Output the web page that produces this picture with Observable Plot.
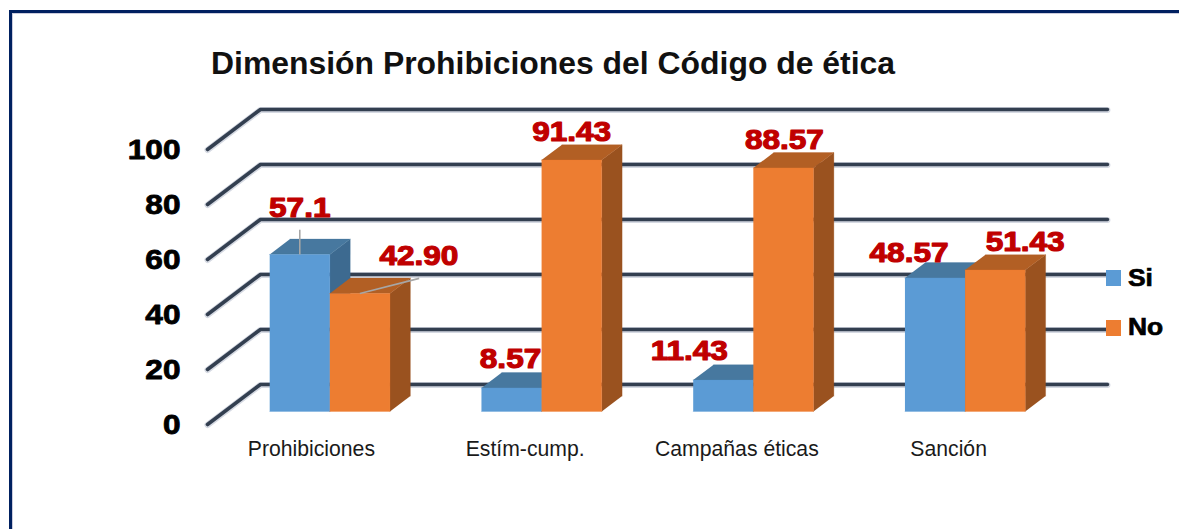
<!DOCTYPE html>
<html>
<head>
<meta charset="utf-8">
<script src="https://cdn.jsdelivr.net/npm/d3@7"></script>
<script src="https://cdn.jsdelivr.net/npm/@observablehq/plot@0.6"></script>
<style>
html,body{margin:0;padding:0;background:#fff;}
#wrap{position:relative;width:1179px;height:529px;overflow:hidden;font-family:"Liberation Sans",Arial,sans-serif;}
#frame{position:absolute;left:9px;top:10px;right:-10px;bottom:-10px;border-left:3px solid #002060;border-top:3px solid #002060;box-shadow:inset 1px 1px 0 #ccd;}
#title{position:absolute;left:211px;top:44px;font-weight:bold;font-size:31.9px;line-height:38px;color:#111;white-space:nowrap;}
#chart{position:absolute;left:0;top:0;}
.leg{position:absolute;left:1106px;width:15px;height:16px;}
.legt{position:absolute;left:1128px;font-weight:bold;font-size:24px;line-height:24px;color:#000;transform-origin:left center;transform:scaleX(1.1);-webkit-text-stroke:.7px #000;}
</style>
</head>
<body>
<div id="wrap">
  <div id="frame"></div>
  <div id="title">Dimensión Prohibiciones del Código de ética</div>
  <div id="chart"></div>
  <div class="leg" style="top:270px;background:#5b9bd5"></div><div class="legt" style="top:266px">Si</div>
  <div class="leg" style="top:320px;background:#ed7d31"></div><div class="legt" style="top:315px">No</div>
</div>
<script>
const categories = ["Prohibiciones", "Estím-cump.", "Campañas éticas", "Sanción"];
const siValues = [57.1, 8.57, 11.43, 48.57];
const noValues = [42.90, 91.43, 88.57, 51.43];
const siLabels = ["57.1", "8.57", "11.43", "48.57"];
const noLabels = ["42.90", "91.43", "88.57", "51.43"];
const yTicks = [0, 20, 40, 60, 80, 100];

// Oblique projection, in scale units per unit of depth
const depthX = 0.25, depthY = 14.55;
const barInset = 0.2125, barW = 0.284, barD0 = 0.325, barD1 = 0.71;
const px = (x, y, d) => ({x: x + d * depthX, y: y + d * depthY});

const colors = {
  Si: {front: "#5b9bd5", top: "#47789f", side: "#3d6a90"},
  No: {front: "#ed7d31", top: "#b25f24", side: "#9a521f"}
};

// Grid polylines: front wall point -> back wall -> far right
const grid = yTicks.flatMap(v => [
  {...px(0, v, 0), id: v},
  {...px(0, v, 1), id: v},
  {...px(4, v, 1), id: v}
]);

// Bar faces
const faces = [];
function addBar(i, k, v, name) {
  const x0 = i + barInset + k * barW, x1 = x0 + barW;
  const poly = (face, pts) => pts.forEach(p => faces.push({...p, id: `${i}-${k}-${face}`, fill: colors[name][face]}));
  poly("side", [px(x1, 0, barD0), px(x1, v, barD0), px(x1, v, barD1), px(x1, 0, barD1)]);
  poly("top", [px(x0, v, barD0), px(x1, v, barD0), px(x1, v, barD1), px(x0, v, barD1)]);
  poly("front", [px(x0, 0, barD0), px(x1, 0, barD0), px(x1, v, barD0), px(x0, v, barD0)]);
}
categories.forEach((c, i) => { addBar(i, 0, siValues[i], "Si"); addBar(i, 1, noValues[i], "No"); });

// Data labels: nudges in pixels from each bar's top centre
const labelNudges = [[0, -46], [59, -37], [-1, -29], [0, -28], [-34, -29], [1, -28], [-26, -25], [30, -28]];
const labels = categories.flatMap((c, i) => [
  {...px(i + barInset + barW / 2, siValues[i], barD0), text: siLabels[i]},
  {...px(i + barInset + barW * 1.5, noValues[i], barD0), text: noLabels[i]}
]).map((d, j) => ({...d, dx: labelNudges[j][0], dy: labelNudges[j][1]}));

// Leader lines for the first category's labels
const leaders = [
  {from: labels[0], x2: labels[0].x, y2: labels[0].y + 9},
  {from: labels[1], x2: labels[1].x + 0.28, y2: labels[1].y + 5.5}
].map(d => ({x1: d.from.x, y1: d.from.y, x2: d.x2, y2: d.y2}));

const categoryNudges = [-2, 0, 0, 0];

const chart = Plot.plot({
  width: 1179, height: 529,
  marginLeft: 207, marginRight: 125, marginTop: 149, marginBottom: 105,
  style: {background: "transparent", overflow: "visible"},
  x: {domain: [0, 4], axis: null},
  y: {domain: [0, 100], axis: null},
  marks: [
    Plot.line(grid, {x: "x", y: "y", z: "id", stroke: "#d5d9e2", strokeWidth: 6, strokeLinecap: "round", strokeLinejoin: "round", dy: 0.5}),
    Plot.line(grid, {x: "x", y: "y", z: "id", stroke: "#333f50", strokeWidth: 3.6, strokeLinecap: "round", strokeLinejoin: "round"}),
    Plot.line(faces, {x: "x", y: "y", z: "id", fill: "fill", stroke: "fill", strokeWidth: 0.5, strokeOpacity: 0.6}),
    Plot.link(leaders, {x1: "x1", y1: "y1", x2: "x2", y2: "y2", stroke: "#a6a6a6", strokeWidth: 1.6}),
    Plot.text(yTicks, {x: 0, y: d => d, text: d => String(d), dx: -27, dy: 1, textAnchor: "end", fontFamily: "Liberation Sans", fontWeight: "bold", fontSize: 27, fill: "#000", stroke: "#000", strokeWidth: 0.8, className: "stretch"}),
    ...labels.map(d => Plot.text([d], {x: "x", y: "y", text: "text", dx: d.dx, dy: d.dy, fontFamily: "Liberation Sans", fontWeight: "bold", fontSize: 27, fill: "#c00000", stroke: "#c00000", strokeWidth: 1.1, className: "stretch"})),
    ...categories.map((c, i) => Plot.text([c], {x: i + 0.5, y: 0, text: d => d, dx: categoryNudges[i], dy: 25, fontFamily: "Liberation Sans", fontSize: 21.2, fill: "#1a1a1a"}))
  ]
});
document.getElementById("chart").appendChild(chart);
d3.select(chart).selectAll(".stretch text").each(function () {
  this.setAttribute("textLength", this.getComputedTextLength() * 1.17);
  this.setAttribute("lengthAdjust", "spacingAndGlyphs");
});
</script>
</body>
</html>
